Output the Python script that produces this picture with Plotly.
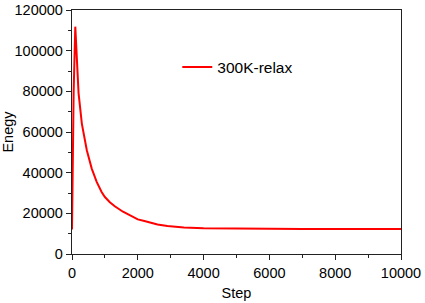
import plotly.graph_objects as go

steps = [0, 20, 50, 100, 150, 200, 300, 450, 600, 750, 900, 1000, 1150, 1300, 1550, 1800,
         2000, 2200, 2400, 2600, 2900, 3400, 4000, 5000, 6000, 7000, 8000, 9000, 10000]
energy = [12000, 40000, 80000, 111800, 95000, 79000, 64000, 51000, 42000, 35500, 30500, 28000,
          25500, 23500, 20800, 18500, 17000, 16200, 15300, 14500, 13800, 13000, 12700, 12500,
          12400, 12350, 12300, 12300, 12300]
series_name = "300K-relax"

fig = go.Figure()
fig.add_trace(go.Scatter(x=steps, y=energy, mode="lines", name=series_name,
                         line=dict(color="#ff0000", width=2)))

font = dict(family="Liberation Sans, Arial", size=14.5, color="black")
axis_common = dict(
    showgrid=False, zeroline=False, showline=True, linecolor="#222222", linewidth=1.3,
    mirror=True, ticks="outside", ticklen=5, tickwidth=1.2, tickcolor="#222222",
    tickfont=font, tickformat="d", automargin=False,
)
fig.update_xaxes(range=[0, 10000], dtick=2000,
                 minor=dict(ticks="outside", dtick=1000, ticklen=3, tickcolor="#222222"),
                 title=dict(text="Step", font=font, standoff=8),
                 **axis_common)
fig.update_yaxes(range=[0, 120000], dtick=20000,
                 minor=dict(ticks="outside", dtick=10000, ticklen=3, tickcolor="#222222"),
                 title=dict(text="Enegy", font=font, standoff=4),
                 **axis_common)

fig.update_layout(
    width=425, height=303,
    margin=dict(l=72, r=24, t=10, b=49),
    paper_bgcolor="white", plot_bgcolor="white",
    showlegend=True,
    legend=dict(x=0.32, y=0.765, xanchor="left", yanchor="middle", bgcolor="rgba(0,0,0,0)",
                font=dict(family="Liberation Sans, Arial", size=15.5, color="black")),
)
fig.write_html("out.html", config={"displayModeBar": False},
               post_script="document.body.style.margin='0';document.body.style.overflow='hidden';")
